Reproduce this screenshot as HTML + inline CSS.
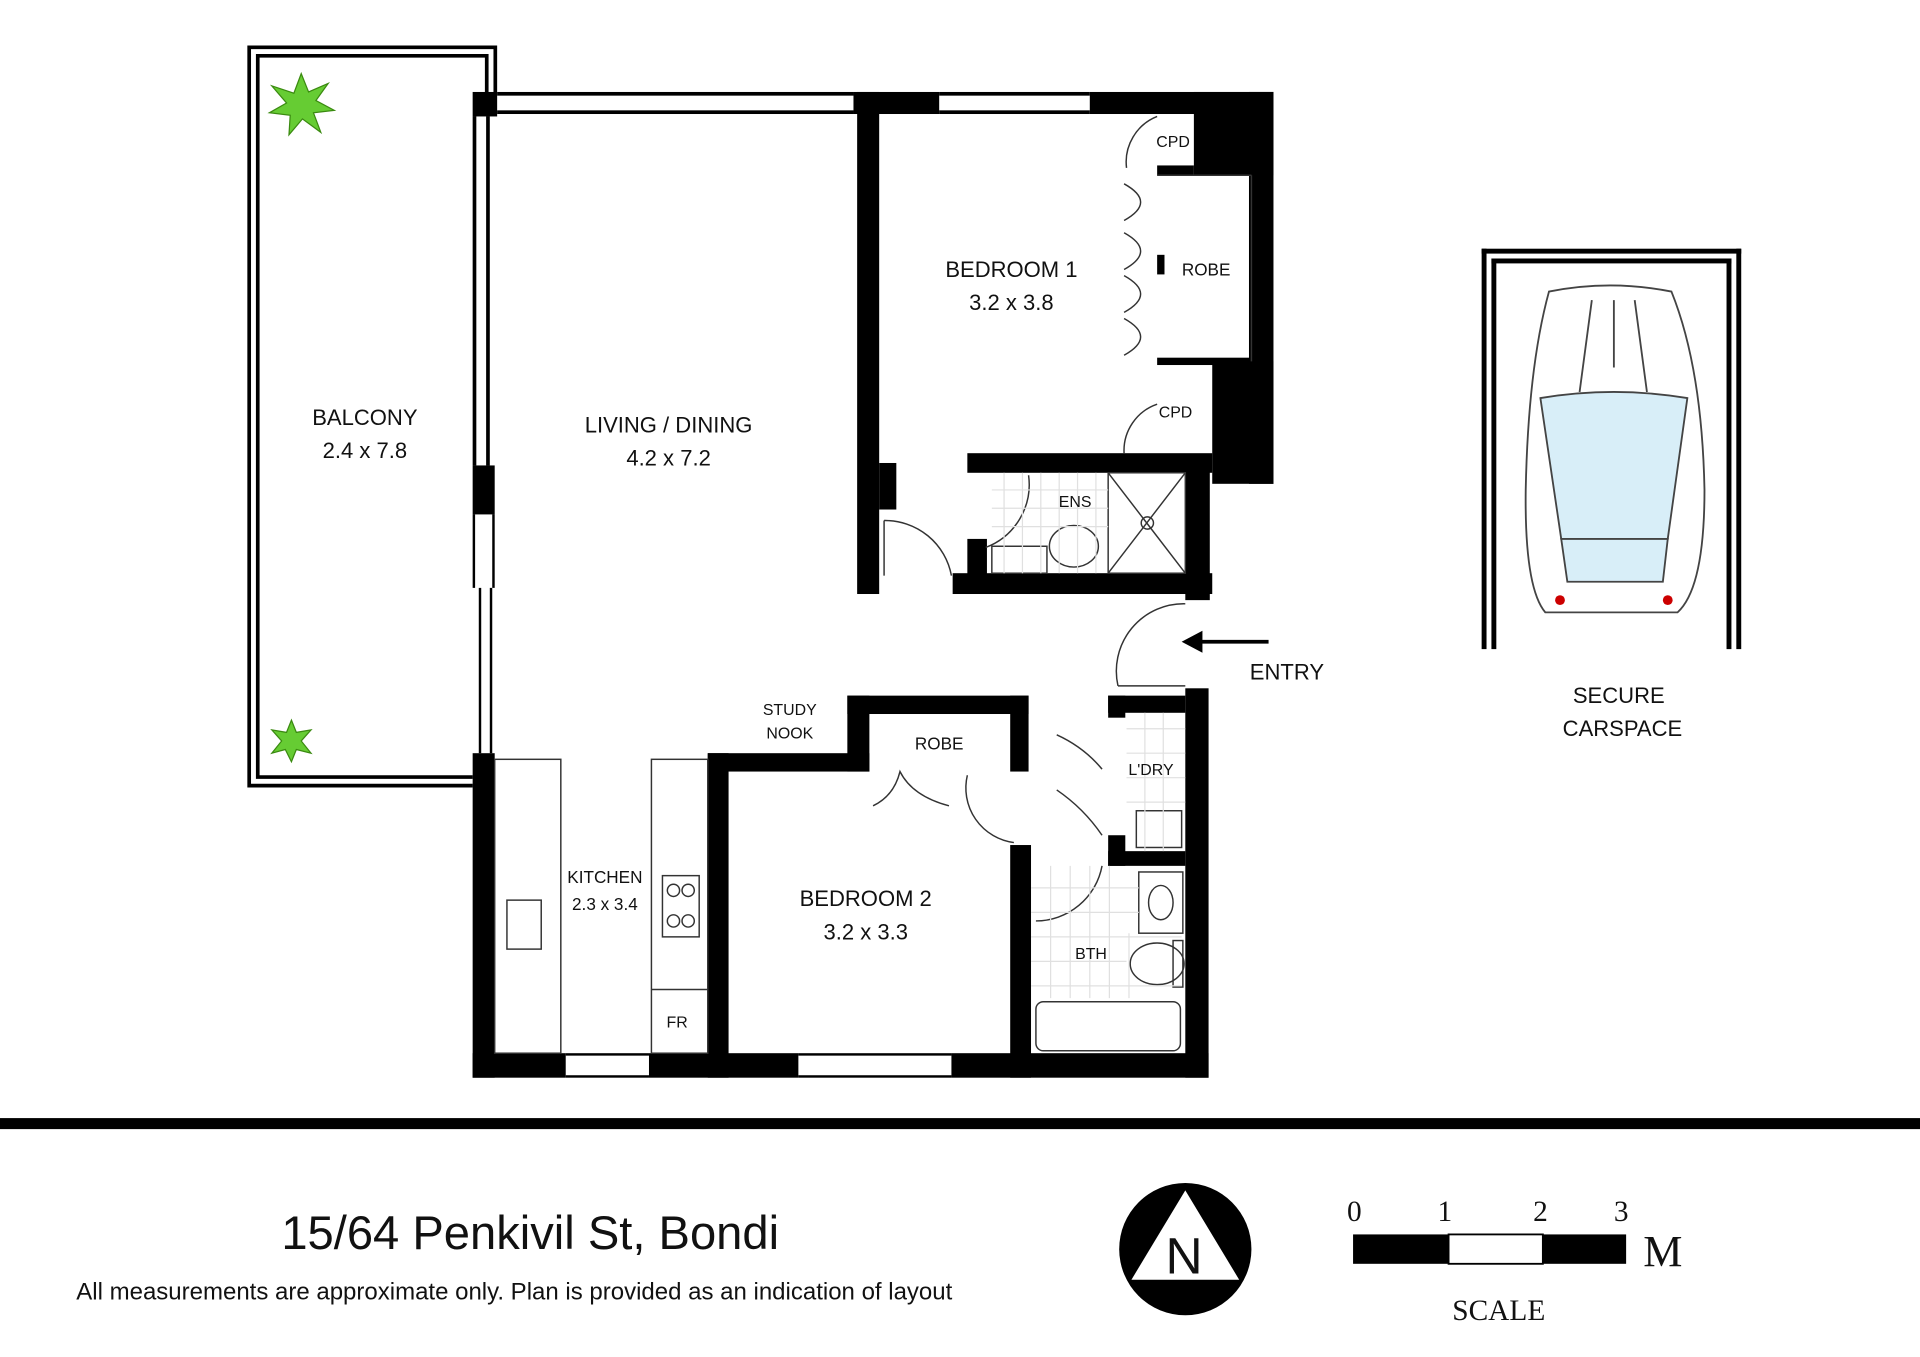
<!DOCTYPE html>
<html><head><meta charset="utf-8"><style>
html,body{margin:0;padding:0;background:#fff}
svg{display:block}
text{font-family:"Liberation Sans",sans-serif;fill:#111}
</style></head><body>
<svg width="1920" height="1357" viewBox="0 0 1568 1108" xmlns="http://www.w3.org/2000/svg">
<!-- balcony outline double -->
<g fill="none" stroke="#000" stroke-width="3">
<path d="M386 641.5 H203.5 V38.5 H404.5 V75"/>
<path d="M386 634.5 H210.5 V45.5 H397.5 V75"/>
</g>
<g fill="#000">
<rect x="386" y="75" width="20" height="20"/>
<!-- living top window -->
<rect x="406" y="75" width="291" height="3"/><rect x="406" y="90" width="291" height="3"/>
<!-- bedroom1 walls -->
<rect x="697" y="75" width="70" height="18"/><rect x="890" y="75" width="150" height="18"/>
<rect x="767" y="75" width="123" height="3"/><rect x="767" y="90" width="123" height="3"/>
<rect x="700" y="75" width="18" height="410"/>
<rect x="718" y="378" width="14" height="38"/>
<rect x="975" y="75" width="65" height="68"/>
<rect x="1020" y="75" width="20" height="320"/>
<rect x="990" y="295" width="50" height="100"/>
<rect x="945" y="135" width="30" height="8"/>
<rect x="945" y="292" width="77" height="6"/>
<rect x="945" y="208" width="6" height="16"/>
<!-- ensuite -->
<rect x="790" y="370" width="200" height="16"/>
<rect x="790" y="440" width="16" height="30"/>
<rect x="778" y="468" width="212" height="17"/>
<rect x="968" y="385" width="20" height="105"/>
<!-- entry + right walls -->
<rect x="968" y="562" width="19" height="318"/>
<rect x="905" y="568" width="63" height="14"/>
<rect x="905" y="568" width="14" height="18"/>
<rect x="905" y="682" width="14" height="25"/>
<rect x="905" y="695" width="63" height="12"/>
<!-- left living glazing -->
<rect x="386" y="95" width="3" height="285"/><rect x="397" y="95" width="3" height="285"/>
<rect x="386" y="380" width="18" height="40"/>
<rect x="386" y="420" width="2" height="60"/><rect x="402" y="420" width="2" height="60"/>
<rect x="391" y="480" width="2" height="135"/><rect x="400" y="480" width="2" height="135"/>
<!-- kitchen -->
<rect x="386" y="615" width="18" height="265"/>
<rect x="386" y="860" width="76" height="20"/>
<rect x="530" y="860" width="122" height="20"/>
<rect x="777" y="860" width="210" height="20"/>
<rect x="462" y="860" width="68" height="2"/><rect x="462" y="878" width="68" height="2"/>
<rect x="652" y="860" width="125" height="2"/><rect x="652" y="878" width="125" height="2"/>
<!-- bedroom2 -->
<rect x="578" y="615" width="132" height="15"/>
<rect x="692" y="568" width="148" height="15"/>
<rect x="692" y="568" width="18" height="62"/>
<rect x="825" y="568" width="15" height="62"/>
<rect x="578" y="615" width="17" height="265"/>
<rect x="825" y="690" width="17" height="190"/>
</g>
<g fill="none" stroke="#333" stroke-width="1.2">
<rect x="404" y="620" width="54" height="240"/>
<rect x="532" y="620" width="46" height="240"/>
<line x1="532" y1="808" x2="578" y2="808"/>
<rect x="414" y="735" width="28" height="40"/>
<rect x="541" y="715" width="30" height="50"/>
<circle cx="550" cy="727" r="5"/><circle cx="562" cy="727" r="5"/><circle cx="550" cy="752" r="5"/><circle cx="562" cy="752" r="5"/>
<line x1="945" y1="143" x2="1022" y2="143"/><line x1="1022" y1="143" x2="1022" y2="295"/>
<path d="M920 137 A40 40 0 0 1 945 95"/><path d="M918 370 A40 40 0 0 1 945 330"/>
<path d="M918 150 Q945 165 918 180 M918 190 Q945 205 918 220 M918 225 Q945 240 918 255 M918 260 Q945 275 918 290"/>
<path d="M722 425 A55 55 0 0 1 777 470"/><line x1="722" y1="425" x2="722" y2="470"/>
<path d="M805 447 A55 55 0 0 0 840 388"/>
<path d="M913 560 A55 55 0 0 1 968 493"/><line x1="913" y1="560" x2="968" y2="560"/>
<path d="M713 658 Q730 650 735 630 Q745 650 775 658"/>
<path d="M790 633 A45 45 0 0 0 828 688"/>
<path d="M863 645 Q885 660 900 682 M863 600 Q885 610 900 628"/>
<path d="M846 752 A55 55 0 0 0 900 707"/>
<rect x="905" y="386" width="63" height="82"/><line x1="905" y1="386" x2="968" y2="468"/><line x1="968" y1="386" x2="905" y2="468"/><circle cx="937" cy="427" r="5"/>
<rect x="810" y="446" width="45" height="22"/><ellipse cx="877" cy="446" rx="20" ry="17"/>
<rect x="928" y="662" width="37" height="30"/>
<rect x="930" y="712" width="36" height="50"/><ellipse cx="948" cy="737" rx="10" ry="14"/>
<ellipse cx="945" cy="787" rx="22" ry="17"/><rect x="958" y="768" width="8" height="38"/>
<rect x="846" y="818" width="118" height="40" rx="6"/>
</g>
<g stroke="#e0e0e0" stroke-width="1">
<path d="M810 400H905M810 415H905M810 430H905M820 386V468M835 386V468M850 386V468M865 386V468M880 386V468M895 386V468"/>
<path d="M920 595H968M920 615H968M920 635H968M920 655H968M935 582V695M950 582V695"/>
<path d="M842 725H930M842 745H930M842 765H965M842 785H920M842 805H965M858 707V815M874 707V815M890 707V815M906 707V815M922 762V815"/>
</g>
<g fill="#6c3" stroke="#3a8a10" stroke-width="1">
<path d="M246 60 L252 75 L268 68 L258 82 L273 90 L256 92 L262 108 L247 97 L236 110 L237 94 L220 92 L234 84 L222 70 L240 76 Z"/>
<path d="M238 588 L242 598 L254 596 L246 605 L254 615 L242 612 L238 622 L233 612 L222 615 L230 605 L222 596 L234 598 Z"/>
</g>
<g fill="#000"><rect x="1210" y="203" width="4" height="327"/><rect x="1218" y="211" width="4" height="319"/><rect x="1210" y="203" width="212" height="4"/><rect x="1218" y="211" width="196" height="4"/><rect x="1418" y="203" width="4" height="327"/><rect x="1410" y="211" width="4" height="319"/></g>
<g fill="#fff" stroke="#444" stroke-width="1.5">
<path d="M1265 238 Q1315 228 1365 238 Q1390 300 1392 400 Q1392 480 1370 500 L1262 500 Q1245 480 1246 400 Q1248 300 1265 238 Z"/>
<path d="M1258 325 Q1318 315 1378 325 L1362 440 L1275 440 Z" fill="#d8eef8"/>
<path d="M1275 440 L1362 440 L1358 475 L1280 475 Z" fill="#d8eef8"/>
<path d="M1290 320 L1300 245 M1345 320 L1335 245 M1318 245 V300"/>
</g>
<circle cx="1274" cy="490" r="4" fill="#c00"/><circle cx="1362" cy="490" r="4" fill="#c00"/>
<line x1="978" y1="524" x2="1036" y2="524" stroke="#000" stroke-width="3"/>
<path d="M965 524 L982 515 L982 533 Z"/>
<g font-size="18" text-anchor="middle">
<text x="298" y="347">BALCONY</text><text x="298" y="374">2.4 x 7.8</text>
<text x="546" y="353">LIVING / DINING</text><text x="546" y="380">4.2 x 7.2</text>
<text x="826" y="226">BEDROOM 1</text><text x="826" y="253">3.2 x 3.8</text>
<text x="707" y="740">BEDROOM 2</text><text x="707" y="767">3.2 x 3.3</text>
<text x="1051" y="555">ENTRY</text>
<text x="1322" y="574">SECURE</text><text x="1325" y="601">CARSPACE</text>
</g>
<g font-size="14" text-anchor="middle">
<text x="494" y="721">KITCHEN</text><text x="494" y="743">2.3 x 3.4</text>
<text x="767" y="612">ROBE</text>
<text x="985" y="225">ROBE</text>
</g>
<g font-size="13" text-anchor="middle">
<text x="958" y="120">CPD</text><text x="960" y="341">CPD</text>
<text x="878" y="414">ENS</text><text x="940" y="633">L'DRY</text><text x="891" y="783">BTH</text>
<text x="553" y="839">FR</text>
<text x="645" y="584">STUDY</text><text x="645" y="603">NOOK</text>
</g>
<rect x="0" y="913" width="1568" height="9" fill="#000"/>
<text x="433" y="1020" font-size="38.5" text-anchor="middle">15/64 Penkivil St, Bondi</text>
<text x="420" y="1061" font-size="19.6" text-anchor="middle">All measurements are approximate only. Plan is provided as an indication of layout</text>
<circle cx="968" cy="1020" r="54" fill="#000"/>
<path d="M968 972 L1012 1045 L924 1045 Z" fill="#fff"/>
<text x="967" y="1040" font-size="42" text-anchor="middle">N</text>
<g style="font-family:'Liberation Serif',serif" font-size="24">
<text x="1106" y="997" text-anchor="middle" style="font-family:'Liberation Serif',serif">0</text><text x="1180" y="997" text-anchor="middle" style="font-family:'Liberation Serif',serif">1</text><text x="1258" y="997" text-anchor="middle" style="font-family:'Liberation Serif',serif">2</text><text x="1324" y="997" text-anchor="middle" style="font-family:'Liberation Serif',serif">3</text>
<text x="1342" y="1034" font-size="36" style="font-family:'Liberation Serif',serif">M</text>
<text x="1224" y="1078" text-anchor="middle" style="font-family:'Liberation Serif',serif">SCALE</text>
</g>
<rect x="1105" y="1008" width="78" height="24" fill="#000"/>
<rect x="1183" y="1008" width="77" height="24" fill="#fff" stroke="#000" stroke-width="1.5"/>
<rect x="1260" y="1008" width="68" height="24" fill="#000"/>
</svg>
</body></html>
